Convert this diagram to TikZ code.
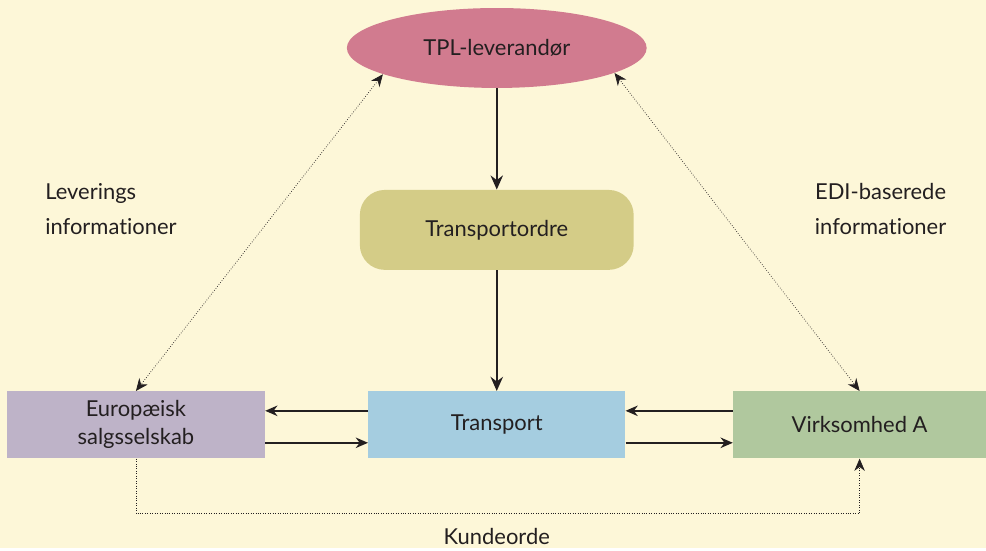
\documentclass[tikz,border=0pt]{standalone}
\usepackage{fontspec}
\setmainfont{Lato}[Ligatures={NoCommon}]
\usetikzlibrary{shapes.geometric,arrows.meta}
\definecolor{bgcream}{HTML}{FDF7D8}
\definecolor{tplpink}{HTML}{D17B8F}
\definecolor{ordreolive}{HTML}{D4CC87}
\definecolor{transblue}{HTML}{A5CDE0}
\definecolor{europalilac}{HTML}{BEB3C8}
\definecolor{virkgreen}{HTML}{B0C89E}
\definecolor{inkgray}{HTML}{231F20}
\begin{document}
\begin{tikzpicture}[x=0.02cm, y=-0.02cm,
    every node/.style={text=inkgray, font=\fontsize{12.5}{16}\selectfont},
    box/.style={rectangle, minimum height=1.34cm, align=center},
    flow/.style={-{Stealth[length=8pt,width=7pt]}, line width=1.4pt, inkgray},
    sideflow/.style={-{Stealth[length=7pt,width=6pt]}, line width=0.9pt, inkgray},
    infoflow/.style={{Stealth[length=7pt,width=6pt]}-{Stealth[length=7pt,width=6pt]}, densely dotted, inkgray},
    label/.style={font=\fontsize{12.5}{20}\selectfont, inner sep=0pt}]
        \fill[bgcream] (0,0) rectangle (986,548);

        \node[ellipse, fill=tplpink, minimum width=6cm, minimum height=1.6cm] (tpl) at (497,48) {TPL-leverandør};
        \node[rectangle, rounded corners=0.5cm, fill=ordreolive, minimum width=5.48cm, minimum height=1.6cm] (ordre) at (497,230) {Transportordre};
        \node[box, fill=transblue, minimum width=5.14cm] (transport) at (497,425) {Transport};
        \node[box, fill=europalilac, minimum width=5.16cm] (europa) at (136,425) {Europæisk\\salgsselskab};
        \node[box, fill=virkgreen, minimum width=5.06cm] (virk) at (860,425) {Virksomhed A};

        \node[label, align=left, anchor=west] (lev) at (45,209) {Leverings\\informationer};
        \node[label, align=center] (edi) at (881,209) {EDI-baserede\\informationer};
        \node (kunde) at (497,537) {Kundeorde};

        \draw[flow] (tpl) -- (ordre);
        \draw[flow] (ordre) -- (transport);

        \draw[sideflow] ([yshift=0.28cm]transport.west) -- ([yshift=0.28cm]europa.east);
        \draw[sideflow] ([yshift=-0.36cm]europa.east) -- ([yshift=-0.36cm]transport.west);
        \draw[sideflow] ([yshift=0.28cm]virk.west) -- ([yshift=0.28cm]transport.east);
        \draw[sideflow] ([yshift=-0.36cm]transport.east) -- ([yshift=-0.36cm]virk.west);

        \draw[infoflow] (tpl.193) -- (europa.north);
        \draw[infoflow] (tpl.348) -- (virk.north);

        \draw[densely dotted, -{Stealth[length=7pt,width=6pt]}, inkgray] (europa.south) -- ++(0,55) -| (virk.south);
    \end{tikzpicture}
\end{document}
